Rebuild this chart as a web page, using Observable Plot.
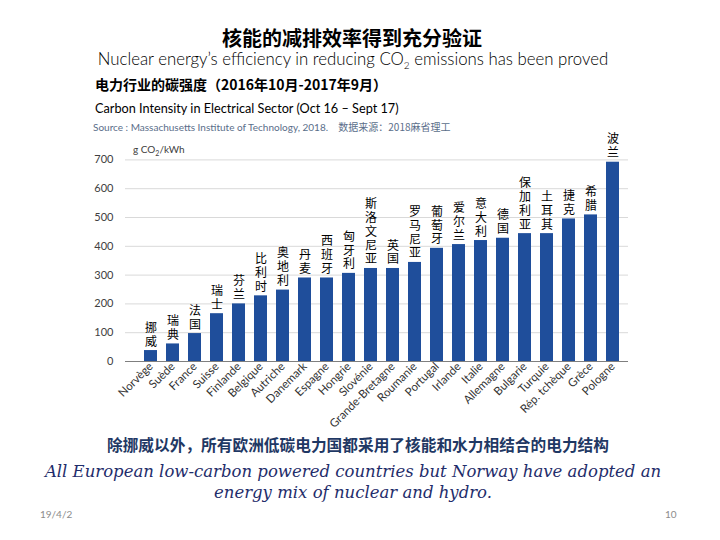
<!DOCTYPE html>
<html>
<head>
<meta charset="utf-8">
<script src="https://cdn.jsdelivr.net/npm/d3@7"></script>
<script src="https://cdn.jsdelivr.net/npm/@observablehq/plot@0.6"></script>
<style>
  html, body { margin: 0; padding: 0; background: #fff; }
  #page { position: relative; width: 720px; height: 540px; overflow: hidden; font-family: Lato, "Noto Sans CJK SC", sans-serif; }
  .t { position: absolute; white-space: nowrap; }
  #chart { position: absolute; left: 0; top: 110px; }
  #chart svg { overflow: visible; }
</style>
</head>
<body>
<div id="page">
  <div class="t" style="left:0;width:704px;top:26px;line-height:24px;text-align:center;font:700 20px/24px 'Noto Sans CJK SC';color:#000;">核能的减排效率得到充分验证</div>
  <div class="t" style="left:0;width:706px;top:49px;text-align:center;font:300 16.8px/19px Lato;color:#000;">Nuclear energy’s efficiency in reducing CO<sub style="font-size:10px;line-height:0">2</sub> emissions has been proved</div>
  <div class="t" style="left:95px;top:76px;font:700 14px/17px 'Noto Sans CJK SC';color:#000;">电力行业的碳强度（2016年10月-2017年9月）</div>
  <div class="t" style="left:95px;top:101px;font:400 12.7px/15px Lato;color:#000;">Carbon Intensity in Electrical Sector (Oct 16 – Sept 17)</div>
  <div class="t" style="left:93px;top:121px;font:400 10px/12px Lato;color:#5a6e8a;">Source : Massachusetts Institute of Technology, 2018. &nbsp;&nbsp; <span style="font-family:'Noto Sans CJK SC'">数据来源：2018麻省理工</span></div>
  <div id="chart"></div>
  <div class="t" style="left:133px;top:143px;font:400 10px/12px Lato;color:#404040;">g CO<sub style="font-size:7px;line-height:0">2</sub>/kWh</div>
  <div class="t" style="left:0;width:716px;top:435px;text-align:center;font:700 15.7px/19px 'Noto Sans CJK SC';color:#1f3864;">除挪威以外，所有欧洲低碳电力国都采用了核能和水力相结合的电力结构</div>
  <div class="t" style="left:0;width:706px;top:461px;text-align:center;font:italic 400 16.5px/21px 'DejaVu Serif';color:#1f2d6b;">All European low-carbon powered countries but Norway have adopted an<br>energy mix of nuclear and hydro.</div>
  <div class="t" style="left:40px;top:508px;font:400 10px/12px Lato;color:#8c8c8c;">19/4/2</div>
  <div class="t" style="left:665px;top:508px;font:400 10px/12px Lato;color:#8c8c8c;">10</div>
</div>
<script>
const countries = ["Norvège","Suède","France","Suisse","Finlande","Belgique","Autriche","Danemark","Espagne","Hongrie","Slovénie","Grande-Bretagne","Roumanie","Portugal","Irlande","Italie","Allemagne","Bulgarie","Turquie","Rép. tchèque","Grèce","Pologne"];
const countriesZh = ["挪威","瑞典","法国","瑞士","芬兰","比利时","奥地利","丹麦","西班牙","匈牙利","斯洛文尼亚","英国","罗马尼亚","葡萄牙","爱尔兰","意大利","德国","保加利亚","土耳其","捷克","希腊","波兰"];
const values = [38, 61, 97, 166, 200, 228, 248, 290, 290, 306, 323, 323, 344, 393, 406, 420, 428, 444, 444, 495, 509, 692];
const yTicks = [0, 100, 200, 300, 400, 500, 600, 700];

const data = countries.map((c, i) => ({country: c, zh: countriesZh[i].split("").join("\n"), value: values[i]}));

const chart = Plot.plot({
  width: 720,
  height: 320,
  marginLeft: 125,
  marginRight: 92,
  marginTop: 35,
  marginBottom: 69,
  style: {fontFamily: "Lato, sans-serif", background: "transparent", color: "#404040", overflow: "visible"},
  x: {domain: countries, paddingInner: 0.4, paddingOuter: 0.55, align: 0.69, label: null},
  y: {domain: [0, 750], label: null},
  marks: [
    Plot.ruleY(yTicks, {stroke: "#d9d9d9", strokeWidth: 1}),
    Plot.barY(data, {x: "country", y: "value", fill: "#1f4e9b"}),
    Plot.ruleY([0], {stroke: "#7f7f7f", strokeWidth: 1.2}),
    Plot.axisY({ticks: yTicks, tickSize: 0, tickPadding: 12, fontSize: 11, line: true, stroke: "#7f7f7f", label: null}),
    Plot.axisX({tickSize: 0, tickPadding: 3, tickRotate: -45, fontSize: 11.5, fill: "#333", label: null}),
    Plot.text(data, {x: "country", y: "value", text: "zh", lineAnchor: "bottom", dy: -5, fontSize: 12, lineHeight: 1.15, fontFamily: "Noto Sans CJK SC", fill: "#000"})
  ]
});
document.getElementById("chart").appendChild(chart);
</script>
</body>
</html>
